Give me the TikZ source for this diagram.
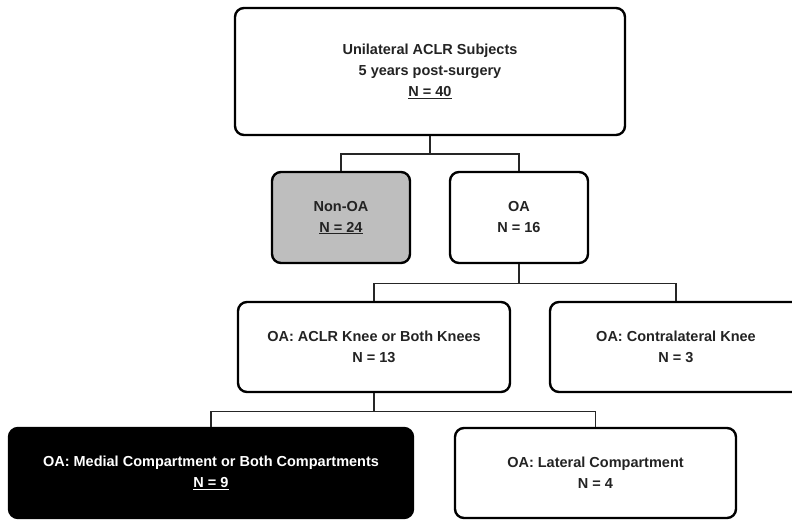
\documentclass[tikz,border=0pt]{standalone}
\usepackage{fontspec}
\setmainfont{Liberation Sans}
\definecolor{boxgray}{RGB}{190,190,190}
\definecolor{txt}{RGB}{35,35,35}
\begin{document}
\begin{tikzpicture}[x=1pt,y=-1pt,
  box/.style={draw=black, line width=2.4pt, rounded corners=9pt, align=center,
    font=\bfseries\fontsize{14.5}{21}\selectfont, text=txt, inner sep=0pt},
  conn/.style={line width=1.4pt, draw=black!85}]
\useasboundingbox (0,0) rectangle (792,521);
\clip (0,0) rectangle (792,521);
\node[box, minimum width=390, minimum height=127] (top) at (430,71.5)
  {Unilateral ACLR Subjects\\5 years post-surgery\\\underline{N = 40}};
\node[box, fill=boxgray, minimum width=138, minimum height=91] (nonoa) at (341,217.5)
  {Non-OA\\\underline{N = 24}};
\node[box, minimum width=138, minimum height=91] (oa) at (519,217.5)
  {OA\\N = 16};
\node[box, minimum width=272, minimum height=90] (aclr) at (374,347)
  {OA: ACLR Knee or Both Knees\\N = 13};
\node[box, minimum width=252, minimum height=90] (contra) at (676,347)
  {OA: Contralateral Knee\\N = 3};
\node[box, fill=black, text=white, minimum width=404, minimum height=90] (medial) at (211,473)
  {OA: Medial Compartment or Both Compartments\\\underline{N = 9}};
\node[box, minimum width=281, minimum height=90] (lateral) at (595.5,473)
  {OA: Lateral Compartment\\N = 4};
\draw[conn] (top.south) -- ++(0,18) coordinate (j1);
\draw[conn] (nonoa.north) |- (j1) -| (oa.north);
\draw[conn] (oa.south) -- ++(0,19) coordinate (j2);
\draw[conn] (aclr.north) |- (j2) -| (contra.north);
\draw[conn] (aclr.south) -- ++(0,18) coordinate (j3);
\draw[conn] (medial.north) |- (j3) -| (lateral.north);
\end{tikzpicture}
\end{document}
